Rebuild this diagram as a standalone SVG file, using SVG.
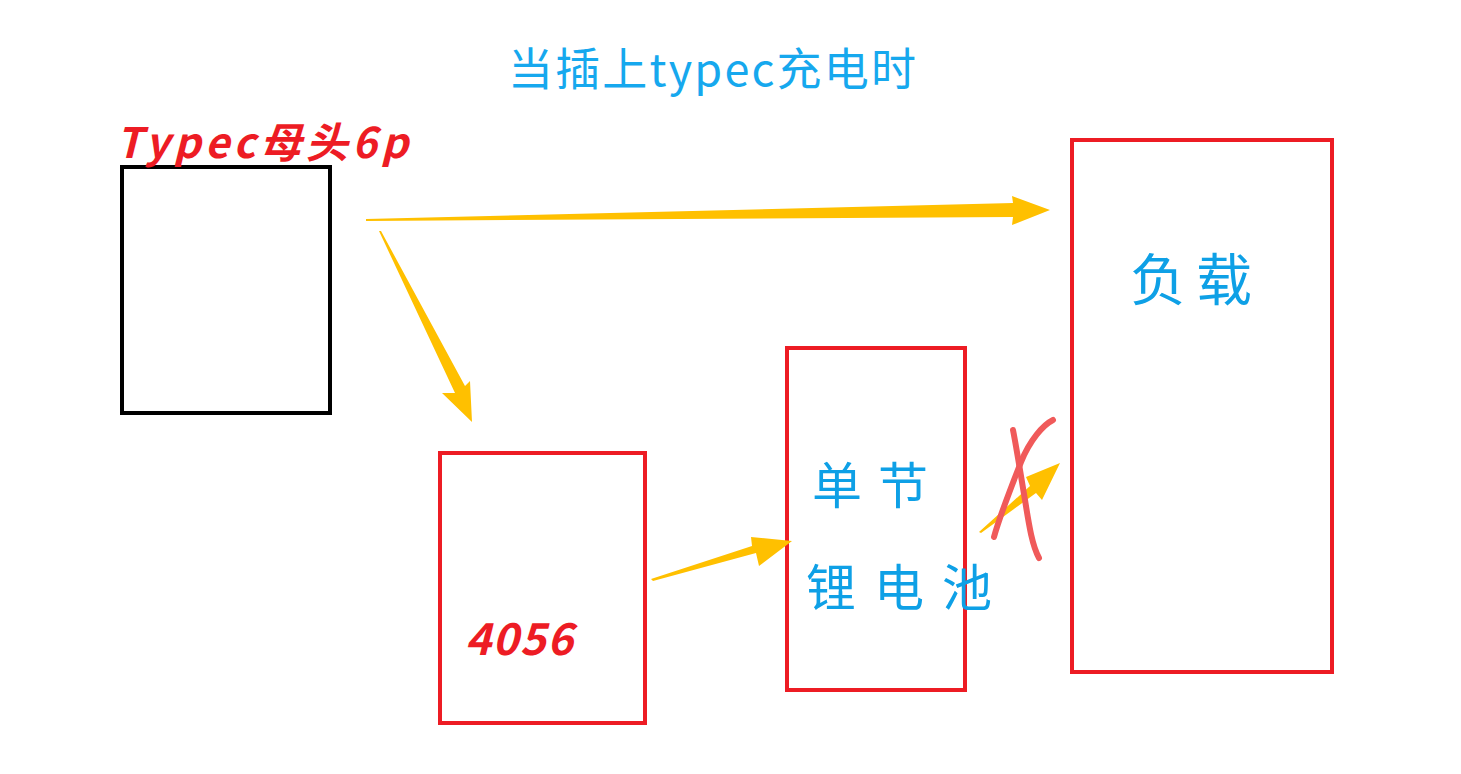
<svg xmlns="http://www.w3.org/2000/svg" width="1461" height="774" viewBox="0 0 1461 774">
<style>
.box{fill:none;stroke:#ed1c24;stroke-width:4}
.blk{fill:none;stroke:#000;stroke-width:4}
.arr{fill:#ffc000;stroke:none}
.blue{fill:#0ea0e6;font-family:"Noto Sans CJK SC","Noto Sans",sans-serif}
.red{fill:#ed1c24;font-family:"Noto Sans CJK SC","Noto Sans",sans-serif;font-style:italic}
.x{fill:none;stroke:#f05a5a;stroke-width:6;stroke-linecap:round;stroke-linejoin:round}
</style>
<rect width="1461" height="774" fill="#fff"/>
<text x="712" y="86" text-anchor="middle" font-size="45" fill="#16a8ee" font-family="Noto Sans CJK SC, Noto Sans, sans-serif" textLength="408">当插上typec充电时</text>
<g id="typec">
<rect class="blk" x="122" y="167" width="208" height="246"/>
<text class="red" x="116" y="158" font-size="42" font-weight="bold" textLength="292">Typec母头6p</text>
</g>
<g id="chip4056">
<rect class="box" x="440" y="453" width="205" height="270"/>
<text class="red" x="465" y="655" font-size="44" font-weight="bold" textLength="108">4056</text>
</g>
<g id="battery">
<rect class="box" x="787" y="348" width="178" height="342"/>
<text class="blue" x="812" y="504" font-size="50" letter-spacing="16">单节</text>
<text class="blue" x="806" y="606" font-size="50" letter-spacing="18">锂电池</text>
</g>
<g id="load">
<rect class="box" x="1072" y="140" width="260" height="532"/>
<text class="blue" x="1130" y="300" font-size="56" letter-spacing="10">负载</text>
</g>
<g id="connectors">
<polygon class="arr" points="366,219 1013,203 1012,196 1050,210 1012,225 1013,217 366,221"/>
<polygon class="arr" points="379,231 455,393 442,393 472,422 470,381 465,386 381,231"/>
<polygon class="arr" points="651,579 752,546 751,537 792,541 759,566 756,553 653,581"/>
<polygon class="arr" points="979,532 1030,486 1026,477 1060,463 1042,500 1036,493 981,533"/>
<path class="x" d="M1013,430 C1016,445 1020,470 1025,500 C1029,525 1032,545 1039,558"/>
<path class="x" d="M1053,420 C1043,425 1030,440 1021,462 C1012,485 1000,515 994,537"/>
</g>
</svg>
